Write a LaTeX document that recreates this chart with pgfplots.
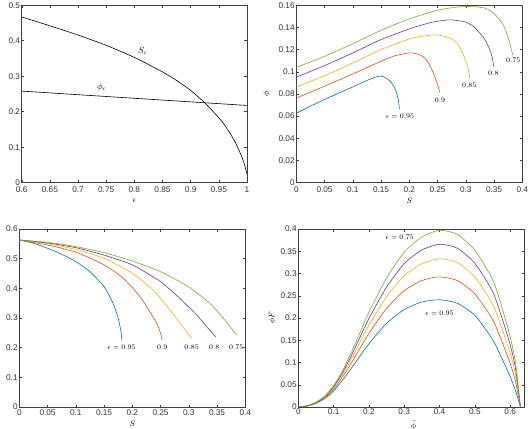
\documentclass[border=0pt]{standalone}
\usepackage{fontspec}
\setmainfont{Liberation Sans}
\usepackage{pgfplots}
\pgfplotsset{compat=1.18}
\definecolor{mblue}{rgb}{0,0.447,0.741}
\definecolor{morange}{rgb}{0.85,0.325,0.098}
\definecolor{myellow}{rgb}{0.929,0.694,0.125}
\definecolor{mpurple}{rgb}{0.494,0.184,0.556}
\definecolor{mgreen}{rgb}{0.466,0.674,0.188}
\pgfplotsset{mstyle/.style={scale only axis, anchor=south west, width=226bp, height=177.5bp,
  axis line style={black!75, line width=0.5bp}, tick style={black!75, line width=0.4bp},
  major tick length=2.5bp, tick align=inside,
  ticklabel style={font=\fontsize{8.3}{9}\selectfont, text=black!80, inner sep=1.5bp},
  xticklabel style={yshift=-2.5bp},
  /pgf/number format/assume math mode=true, scaled ticks=false,
  xticklabel style={/pgf/number format/fixed, /pgf/number format/precision=3},
  yticklabel style={/pgf/number format/fixed, /pgf/number format/precision=3},
  label style={font=\fontsize{8.5}{9}\selectfont},
  xlabel style={at={(axis description cs:0.5,0)}, anchor=center, yshift=-18bp, inner sep=0pt},
  every axis plot/.append style={line width=0.6bp, smooth, tension=0.4},
}}
\newcommand{\lab}{\fontsize{7.5}{9}\selectfont}
\begin{document}
\begin{tikzpicture}
\path[use as bounding box] (0,0) rectangle (528bp,429bp);
% top left
\begin{axis}[mstyle, at={(21.7bp,246.3bp)}, width=225.3bp, xmin=0.6, xmax=1, ymin=0, ymax=0.5,
  xtick={0.6,0.65,...,1.01}, ytick={0,0.1,...,0.51}, xlabel={$\epsilon$}]
\addplot[black] coordinates {(0.6,0.467) (0.65,0.442) (0.7,0.416) (0.75,0.387) (0.8,0.353) (0.825,0.333) (0.85,0.312) (0.875,0.288) (0.9,0.26) (0.925,0.225) (0.95,0.183) (0.96,0.163) (0.97,0.139) (0.98,0.111) (0.99,0.076) (0.995,0.054) (1.0,0.024)};
\addplot[black] coordinates {(0.6,0.258) (1.0,0.2176)};
\node[font=\fontsize{9}{10}\selectfont] at (axis cs:0.815,0.372) {$S_c$};
\node[font=\fontsize{9}{10}\selectfont] at (axis cs:0.742,0.268) {$\phi_c$};
\end{axis}
% top right
\begin{axis}[mstyle, at={(296.3bp,246.3bp)}, xmin=0, xmax=0.4, ymin=0, ymax=0.16,
  xtick={0,0.05,...,0.41}, ytick={0,0.02,...,0.161}, xlabel={$S$}, ylabel={$\phi$},
  ylabel style={at={(axis description cs:-0.131,0.5)}, anchor=center}]
\addplot[mblue] coordinates {(0,0.0627) (0.025,0.0690) (0.05,0.0750) (0.075,0.0808) (0.1,0.0864) (0.12,0.0910) (0.137,0.0946) (0.15,0.0962) (0.16,0.0940) (0.168,0.0905) (0.174,0.0855) (0.178,0.0800) (0.181,0.0735) (0.1825,0.066)};
\addplot[morange] coordinates {(0,0.0762) (0.05,0.0870) (0.1,0.098) (0.15,0.1095) (0.175,0.1145) (0.2,0.1170) (0.21,0.1166) (0.22,0.1150) (0.23,0.1110) (0.238,0.1040) (0.244,0.0970) (0.249,0.0900) (0.2537,0.0817)};
\addplot[myellow] coordinates {(0,0.0862) (0.05,0.0964) (0.1,0.1079) (0.15,0.120) (0.2,0.1296) (0.22,0.1318) (0.245,0.1333) (0.26,0.1322) (0.272,0.1305) (0.282,0.127) (0.29,0.1215) (0.297,0.1135) (0.302,0.1065) (0.3055,0.099) (0.307,0.0935)};
\addplot[mpurple] coordinates {(0,0.0952) (0.05,0.1055) (0.1,0.117) (0.15,0.129) (0.2,0.1386) (0.24,0.1446) (0.27,0.1468) (0.29,0.1458) (0.3,0.1448) (0.313,0.1412) (0.322,0.1365) (0.332,0.1305) (0.3395,0.1235) (0.3443,0.1175) (0.3475,0.111) (0.349,0.1049)};
\addplot[mgreen] coordinates {(0,0.104) (0.05,0.1139) (0.1,0.1253) (0.15,0.1374) (0.2,0.1477) (0.25,0.1555) (0.28,0.1580) (0.3,0.1588) (0.32,0.1585) (0.335,0.1572) (0.3487,0.153) (0.358,0.148) (0.366,0.1425) (0.371,0.137) (0.375,0.1305) (0.3785,0.1245) (0.3815,0.1184) (0.383,0.1150)};
\node[font=\lab] at (axis cs:0.1835,0.0603) {$\epsilon=0.95$};
\node[font=\lab] at (axis cs:0.2543,0.0747) {$0.9$};
\node[font=\lab] at (axis cs:0.306,0.0877) {$0.85$};
\node[font=\lab] at (axis cs:0.3487,0.0989) {$0.8$};
\node[font=\lab] at (axis cs:0.384,0.110) {$0.75$};
\end{axis}
% bottom left
\begin{axis}[mstyle, at={(19.3bp,22bp)}, height=178bp, xmin=0, xmax=0.4, ymin=0, ymax=0.6,
  xtick={0,0.05,...,0.41}, ytick={0,0.1,...,0.61}, xlabel={$S$},
  xticklabel style={yshift=1bp}, xlabel style={yshift=1bp}]
\addplot[mblue] coordinates {(0,0.563) (0.025,0.552) (0.05,0.535) (0.075,0.515) (0.1,0.49) (0.125,0.456) (0.15,0.4056) (0.166,0.349) (0.175,0.299) (0.18,0.254) (0.1817,0.2225)};
\addplot[morange] coordinates {(0,0.563) (0.05,0.546) (0.1,0.522) (0.15,0.479) (0.184,0.434) (0.2136,0.372) (0.231,0.321) (0.246,0.271) (0.253,0.226)};
\addplot[myellow] coordinates {(0,0.563) (0.05,0.5506) (0.1,0.531) (0.15,0.501) (0.2,0.4506) (0.237,0.394) (0.2667,0.327) (0.287,0.276) (0.305,0.231)};
\addplot[mpurple] coordinates {(0,0.563) (0.05,0.553) (0.1,0.537) (0.15,0.512) (0.2,0.479) (0.25,0.4225) (0.284,0.366) (0.314,0.31) (0.3316,0.271) (0.348,0.236)};
\addplot[mgreen] coordinates {(0,0.563) (0.05,0.555) (0.1,0.5405) (0.15,0.5202) (0.2,0.492) (0.25,0.456) (0.299,0.4056) (0.3375,0.349) (0.361,0.299) (0.3847,0.2427)};
\node[font=\lab] at (axis cs:0.181,0.2) {$\epsilon=0.95$};
\node[font=\lab] at (axis cs:0.253,0.2) {$0.9$};
\node[font=\lab] at (axis cs:0.305,0.2) {$0.85$};
\node[font=\lab] at (axis cs:0.345,0.2) {$0.8$};
\node[font=\lab] at (axis cs:0.384,0.2) {$0.75$};
\end{axis}
% bottom right
\begin{axis}[mstyle, at={(298.3bp,22bp)}, height=178bp, xmin=0, xmax=0.64, ymin=0, ymax=0.4,
  xtick={0,0.1,...,0.61}, ytick={0,0.05,...,0.41}, xlabel={$\bar{\phi}$}, ylabel={$\phi F$},
  xticklabel style={yshift=2.5bp},
  xlabel style={font=\fontsize{8}{9}\selectfont, xshift=2bp, yshift=-0.5bp},
  ylabel style={at={(axis description cs:-0.115,0.5)}, anchor=center}]
\addplot[mblue] coordinates {(0,0) (0.025,0.002) (0.05,0.008) (0.075,0.019) (0.1,0.036) (0.125,0.06) (0.15,0.087) (0.175,0.115) (0.2,0.142) (0.25,0.188) (0.3,0.219) (0.35,0.236) (0.4,0.241) (0.45,0.233) (0.5,0.206) (0.55,0.152) (0.575,0.112) (0.6,0.068) (0.615,0.037) (0.629,0)};
\addplot[morange] coordinates {(0,0) (0.025,0.0023) (0.05,0.0089) (0.075,0.0208) (0.1,0.040) (0.125,0.0669) (0.15,0.0986) (0.175,0.1325) (0.2,0.1654) (0.25,0.2217) (0.3,0.2616) (0.35,0.2842) (0.4,0.2925) (0.45,0.2842) (0.5,0.2542) (0.55,0.1966) (0.575,0.1503) (0.6,0.0977) (0.615,0.0578) (0.629,0)};
\addplot[myellow] coordinates {(0,0) (0.025,0.0026) (0.05,0.0096) (0.075,0.0222) (0.1,0.0431) (0.125,0.0724) (0.15,0.1077) (0.175,0.1463) (0.2,0.1839) (0.25,0.2482) (0.3,0.2951) (0.35,0.3221) (0.4,0.333) (0.45,0.3245) (0.5,0.2921) (0.55,0.2317) (0.575,0.1804) (0.6,0.1211) (0.615,0.0742) (0.629,0)};
\addplot[mpurple] coordinates {(0,0) (0.025,0.0028) (0.05,0.0102) (0.075,0.0234) (0.1,0.0456) (0.125,0.0768) (0.15,0.115) (0.175,0.1574) (0.2,0.1988) (0.25,0.2696) (0.3,0.3222) (0.35,0.3528) (0.4,0.3658) (0.45,0.357) (0.5,0.3228) (0.55,0.26) (0.575,0.2048) (0.6,0.14) (0.615,0.0874) (0.629,0)};
\addplot[mgreen] coordinates {(0,0) (0.025,0.003) (0.05,0.0107) (0.075,0.0245) (0.1,0.048) (0.125,0.081) (0.15,0.122) (0.175,0.168) (0.2,0.213) (0.25,0.29) (0.3,0.348) (0.35,0.382) (0.4,0.397) (0.45,0.388) (0.5,0.352) (0.55,0.287) (0.575,0.228) (0.6,0.158) (0.615,0.10) (0.629,0)};
\node[font=\lab] at (axis cs:0.287,0.382) {$\epsilon=0.75$};
\node[font=\lab] at (axis cs:0.4,0.2105) {$\epsilon=0.95$};
\end{axis}
\end{tikzpicture}
\end{document}
